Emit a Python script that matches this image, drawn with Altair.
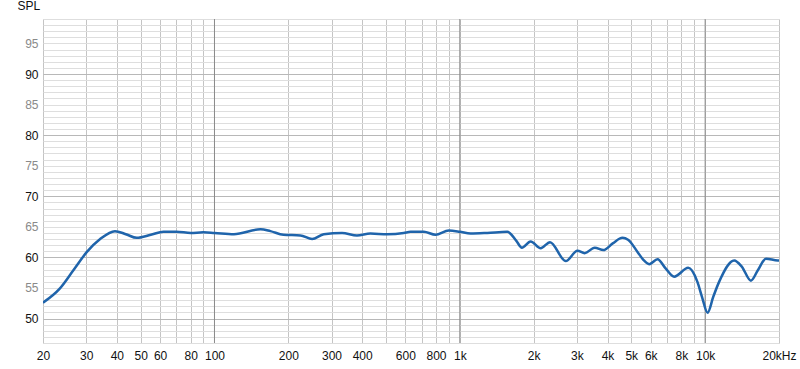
import altair as alt
import pandas as pd

freqs = [20, 23.4, 26.6, 30.2, 34.2, 39.3, 43.5, 48.2, 55, 62, 70, 80, 90, 100,
         120, 154, 169, 191, 224, 250, 279, 331, 381, 432, 506, 591, 630, 713, 796,
         902, 1000, 1106, 1294, 1562, 1700, 1790, 1944, 2136, 2332, 2702, 3016, 3230,
         3548, 3848, 4200, 4604, 4850, 5300, 5600, 5912, 6396, 6900, 7476, 8532,
         9300, 9700, 10232, 10800, 11400, 13140, 14100, 15370, 16400, 17700, 19760, 20000]
spl = [52.6, 54.9, 57.9, 60.9, 63.0, 64.3, 63.8, 63.2, 63.7, 64.2, 64.2, 64.0, 64.1, 64.0,
       63.8, 64.6, 64.3, 63.7, 63.6, 63.0, 63.8, 64.0, 63.6, 63.9, 63.8, 64.0, 64.2, 64.2, 63.7,
       64.4, 64.2, 63.9, 64.0, 64.2, 62.7, 61.6, 62.6, 61.5, 62.5, 59.4, 61.1, 60.7,
       61.6, 61.2, 62.3, 63.2, 62.9, 60.9, 59.6, 58.9, 59.7, 58.2, 56.85, 58.3,
       56.0, 53.6, 50.95, 53.6, 56.0, 59.5, 58.5, 56.2, 57.9, 59.8, 59.5, 59.5]

x_grid = [20, 30, 40, 50, 60, 70, 80, 90, 100, 200, 300, 400, 500, 600, 700, 800, 900,
          1000, 2000, 3000, 4000, 5000, 6000, 7000, 8000, 9000, 10000, 20000]
x_decades = [100, 1000, 10000]
x_label_vals = [20, 30, 40, 50, 60, 80, 100, 200, 300, 400, 600, 800, 1000, 2000, 3000,
                4000, 5000, 6000, 8000, 10000, 20000]
x_label_txt = ["20", "30", "40", "50", "60", "80", "100", "200", "300", "400", "600", "800",
               "1k", "2k", "3k", "4k", "5k", "6k", "8k", "10k", "20kHz"]
y_grid = list(range(46, 100))

df = pd.DataFrame({"f": freqs, "spl": spl})
dec = pd.DataFrame({"f": x_decades})

expr = "''"
for v, t in reversed(list(zip(x_label_vals, x_label_txt))):
    expr = f"datum.value == {v} ? '{t}' : ({expr})"

FONT = "Liberation Sans"

xscale = alt.Scale(type="log", domain=[20, 20000], nice=False)
yscale = alt.Scale(domain=[46, 99], nice=False, zero=False)

line = alt.Chart(df).mark_line(
    color="#1f64ab", strokeWidth=2.5, interpolate="monotone", clip=True
).encode(
    x=alt.X("f:Q", scale=xscale,
            axis=alt.Axis(values=x_grid, labelExpr=expr, title=None, domain=False,
                          ticks=False, labelFlush=False, labelOverlap=False,
                          labelFont=FONT, labelFontSize=12, labelColor="#111",
                          labelPadding=7, gridColor="#c4c4c4", gridWidth=1)),
    y=alt.Y("spl:Q", scale=yscale,
            axis=alt.Axis(values=y_grid,
                          labelExpr="datum.value % 5 === 0 ? datum.label : ''",
                          title="SPL", titleAngle=0, titleAlign="left", titleX=-26,
                          titleY=-7, titleFont=FONT, titleFontSize=12,
                          titleFontWeight="normal", titleColor="#111",
                          domain=False, ticks=False, labelFlush=False, labelOverlap=False,
                          labelFont=FONT, labelFontSize=12, labelPadding=5,
                          labelColor={"condition": {"test": "datum.value % 10 === 0", "value": "#111"},
                                      "value": "#8a8a8a"},
                          gridColor={"condition": {"test": "datum.value % 10 === 0", "value": "#b8b8b8"},
                                     "value": "#dedede"},
                          gridWidth=1)),
)

decade_rules = alt.Chart(dec).mark_rule(color="#8a8a8a", strokeWidth=1).encode(
    x=alt.X("f:Q", scale=xscale)
)

chart = alt.layer(decade_rules, line).properties(
    width=736, height=324,
    autosize=alt.AutoSizeParams(type="none"),
    padding={"left": 43, "top": 19, "right": 21, "bottom": 26},
).configure_view(stroke="#a8a8a8", strokeWidth=2).configure(background="white")

chart.save("out.html", embed_options={"renderer": "svg", "actions": False})
